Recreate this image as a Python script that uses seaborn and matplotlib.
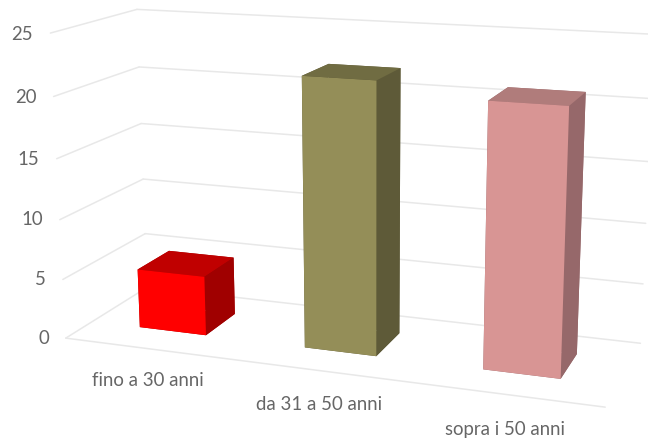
import matplotlib
matplotlib.use("Agg")
import matplotlib.pyplot as plt
import numpy as np
import seaborn as sns
from mpl_toolkits.mplot3d import proj3d

categories = ["fino a 30 anni", "da 31 a 50 anni", "sopra i 50 anni"]
values = [5, 22, 21]
z_ticks = [0, 5, 10, 15, 20, 25]

front_colors = ["#FF0000", "#948E58", "#D89594"]
top_colors = ["#C00000", "#706C42", "#B07C7B"]
side_colors = ["#A00000", "#5E5A38", "#96686A"]

sns.set_theme(style="white")
plt.rcParams["font.family"] = ["Lato", "DejaVu Sans"]

W, H = 648, 438
fig = plt.figure(figsize=(W / 100, H / 100), dpi=100)

# camera values fitted to the corners of the reference chart
ax = fig.add_axes([17.955 / W, (-105 + 19.283) / H, 1, W / H], projection="3d")
ax.set_xlim(0, 3, view_margin=0)
ax.set_ylim(0, 1, view_margin=0)
ax.set_zlim(0, 25, view_margin=0)
ax.view_init(14.244, -69.872, 0.201)
ax.set_proj_type("persp", focal_length=0.451)
ax.set_box_aspect((3, 0.976, 1.695), zoom=1.002)
ax.set_xticks([])
ax.set_yticks([])
ax.set_zticks([])
ax.set_axis_off()
ax.computed_zorder = False
fig.canvas.draw()


def label_3d(x, y, z, s, ha, dy=0):
    # text goes on the figure, at the pixel the 3d point lands on
    px, py, _ = proj3d.proj_transform(x, y, z, ax.get_proj())
    px, py = ax.transData.transform((px, py))
    fig.text(px / W, (py + dy) / H, s, ha=ha, va="center", fontsize=13.4, color="#666666")


grid = dict(color="#E8E8E8", lw=1.1, zorder=1)
for z in z_ticks:
    ax.plot([0, 0], [0, 1], [z, z], **grid)
    ax.plot([0, 3], [1, 1], [z, z], **grid)
    label_3d(-0.105, 0, z, str(z), "right", dy=-2)
ax.plot([0, 3], [0, 0], [0, 0], **grid)

for i, (cat, val) in enumerate(zip(categories, values)):
    # faces in bar3d order: bottom, top, front, back, left, right
    face_colors = [side_colors[i], top_colors[i], front_colors[i],
                   side_colors[i], side_colors[i], side_colors[i]]
    ax.bar3d(i + 0.3, 0.31, 0, 0.41, 0.40, val, color=face_colors,
             shade=False, edgecolor="none", zorder=2 + i)
    label_3d(i + 0.5, 0, -2.75, cat, "center")

fig.savefig("out.png", dpi=100)
